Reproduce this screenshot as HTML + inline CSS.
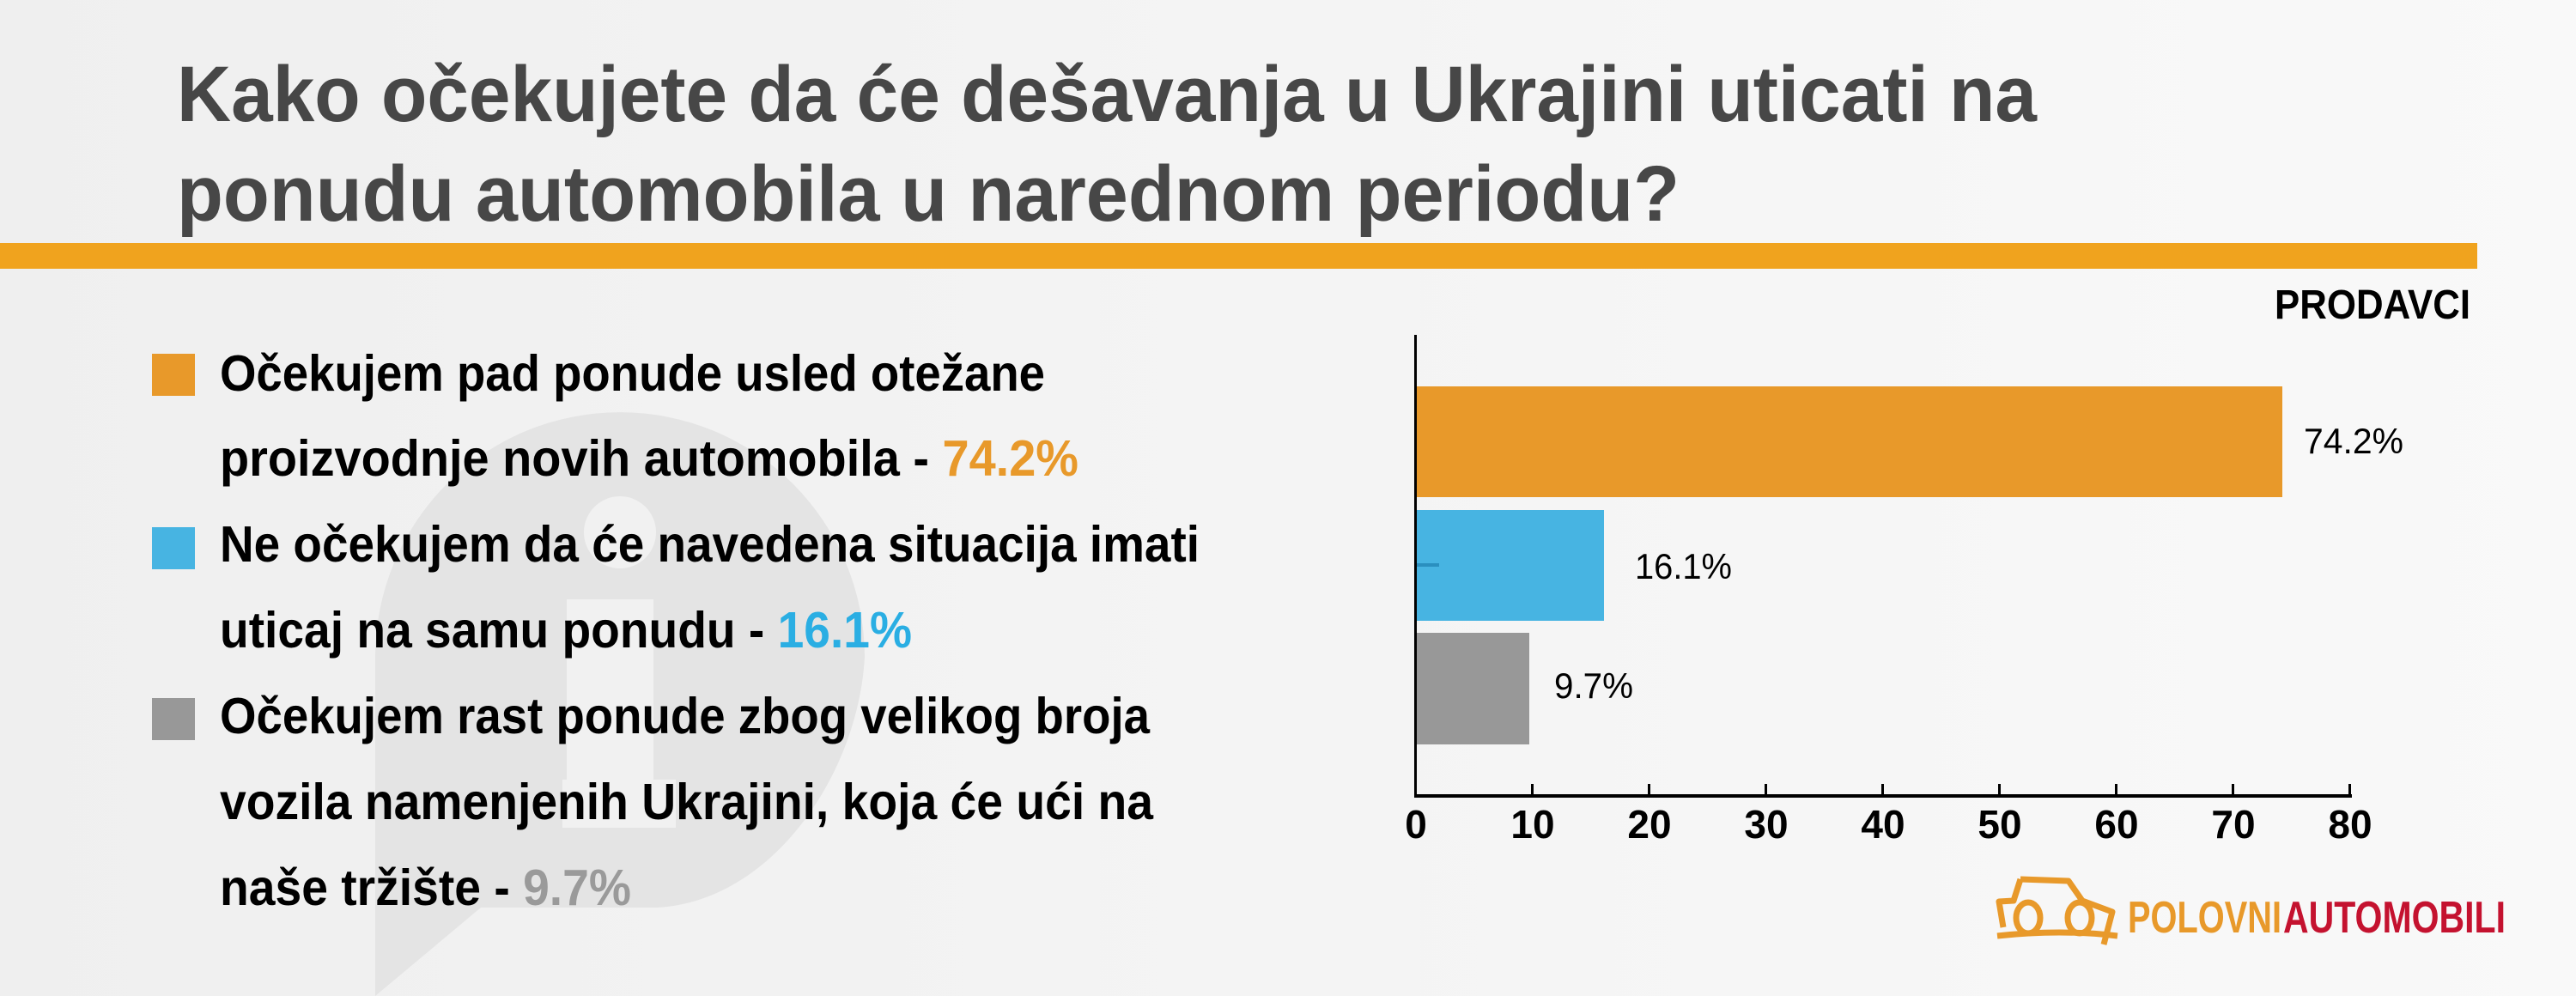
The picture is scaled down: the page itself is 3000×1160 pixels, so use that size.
<!DOCTYPE html>
<html><head><meta charset="utf-8"><style>
html,body{margin:0;padding:0;}
body{width:3000px;height:1160px;overflow:hidden;}
svg{display:block;}
</style></head><body>
<svg width="3000" height="1160" viewBox="0 0 3000 1160" xmlns="http://www.w3.org/2000/svg" font-family="'Liberation Sans', sans-serif">
<defs>
<linearGradient id="bg" x1="0" y1="0" x2="1" y2="0">
<stop offset="0" stop-color="#efefef"/><stop offset="1" stop-color="#f9f9f9"/>
</linearGradient>
</defs>
<rect width="3000" height="1160" fill="url(#bg)"/>
<!-- watermark -->
<path d="M437,1160 L437,765 A285,285 0 0 1 1007,765 C1000,900 900,1050 765,1057 L560,1057 Z" fill="#e4e4e4"/>
<circle cx="722" cy="620" r="42" fill="#f1f1f1"/>
<rect x="660" y="698" width="101" height="266" fill="#f1f1f1"/>
<rect x="655" y="908" width="132" height="56" fill="#f1f1f1"/>

<!-- title -->
<g fill="#474747" font-weight="bold" font-size="92">
<text x="206" y="141" textLength="2166" lengthAdjust="spacingAndGlyphs">Kako očekujete da će dešavanja u Ukrajini uticati na</text>
<text x="206" y="257" textLength="1750" lengthAdjust="spacingAndGlyphs">ponudu automobila u narednom periodu?</text>
</g>
<rect x="0" y="283" width="2885" height="30" fill="#f0a31e"/>

<!-- legend -->
<rect x="177" y="412" width="50" height="49" fill="#e8992a"/>
<rect x="177" y="614" width="50" height="49" fill="#47b4e2"/>
<rect x="177" y="813" width="50" height="49" fill="#989898"/>
<g font-weight="bold" font-size="59" fill="#000">
<text x="256" y="455" textLength="961" lengthAdjust="spacingAndGlyphs">Očekujem pad ponude usled otežane</text>
<text x="256" y="554" textLength="1000" lengthAdjust="spacingAndGlyphs">proizvodnje novih automobila - <tspan fill="#e8992a">74.2%</tspan></text>
<text x="256" y="654" textLength="1141" lengthAdjust="spacingAndGlyphs">Ne očekujem da će navedena situacija imati</text>
<text x="256" y="754" textLength="806" lengthAdjust="spacingAndGlyphs">uticaj na samu ponudu - <tspan fill="#2aaee3">16.1%</tspan></text>
<text x="256" y="854" textLength="1083" lengthAdjust="spacingAndGlyphs">Očekujem rast ponude zbog velikog broja</text>
<text x="256" y="954" textLength="1087" lengthAdjust="spacingAndGlyphs">vozila namenjenih Ukrajini, koja će ući na</text>
<text x="256" y="1054" textLength="479" lengthAdjust="spacingAndGlyphs">naše tržište - <tspan fill="#9a9a9a">9.7%</tspan></text>
</g>

<!-- chart -->
<text x="2649" y="371" font-weight="bold" font-size="48" textLength="228" lengthAdjust="spacingAndGlyphs" fill="#000">PRODAVCI</text>
<rect x="1649" y="450" width="1009" height="129" fill="#e8992a"/>
<rect x="1649" y="594" width="219" height="129" fill="#47b4e2"/>
<rect x="1649" y="737" width="132" height="130" fill="#989898"/>
<rect x="1649" y="656" width="27" height="4" fill="#2a8fbf"/>
<rect x="1647" y="390" width="3" height="539" fill="#000"/>
<rect x="1647" y="925" width="1092" height="4" fill="#000"/>
<g fill="#000">
<rect x="1783" y="913" width="3" height="13"/><rect x="1919" y="913" width="3" height="13"/>
<rect x="2055" y="913" width="3" height="13"/><rect x="2191" y="913" width="3" height="13"/>
<rect x="2327" y="913" width="3" height="13"/><rect x="2463" y="913" width="3" height="13"/>
<rect x="2599" y="913" width="3" height="13"/><rect x="2735" y="913" width="3" height="13"/>
</g>
<g font-weight="bold" font-size="46" text-anchor="middle" fill="#000">
<text x="1649" y="976">0</text><text x="1785" y="976">10</text><text x="1921" y="976">20</text>
<text x="2057" y="976">30</text><text x="2193" y="976">40</text><text x="2329" y="976">50</text>
<text x="2465" y="976">60</text><text x="2601" y="976">70</text><text x="2737" y="976">80</text>
</g>
<g font-size="42" fill="#000">
<text x="2683" y="528" textLength="116" lengthAdjust="spacingAndGlyphs">74.2%</text>
<text x="1904" y="674" textLength="113" lengthAdjust="spacingAndGlyphs">16.1%</text>
<text x="1810" y="813" textLength="92" lengthAdjust="spacingAndGlyphs">9.7%</text>
</g>

<!-- logo -->
<g fill="none" stroke="#e8992a" stroke-width="7" stroke-linejoin="round">
<path d="M2353,1024 L2409,1026 L2425,1049 L2460,1062 L2450,1100"/>
<path d="M2353,1024 L2345,1049 L2328,1050 L2333,1080"/>
<ellipse cx="2362" cy="1069" rx="14" ry="18"/>
<ellipse cx="2422" cy="1069" rx="14" ry="18"/>
<path d="M2326,1090 Q2400,1082 2466,1090"/>
</g>
<text x="2478" y="1086" font-weight="bold" font-size="52" fill="#e8992a" textLength="179" lengthAdjust="spacingAndGlyphs">POLOVNI</text>
<text x="2659" y="1086" font-weight="bold" font-size="52" fill="#c4122f" textLength="259" lengthAdjust="spacingAndGlyphs">AUTOMOBILI</text>
</svg>
</body></html>
